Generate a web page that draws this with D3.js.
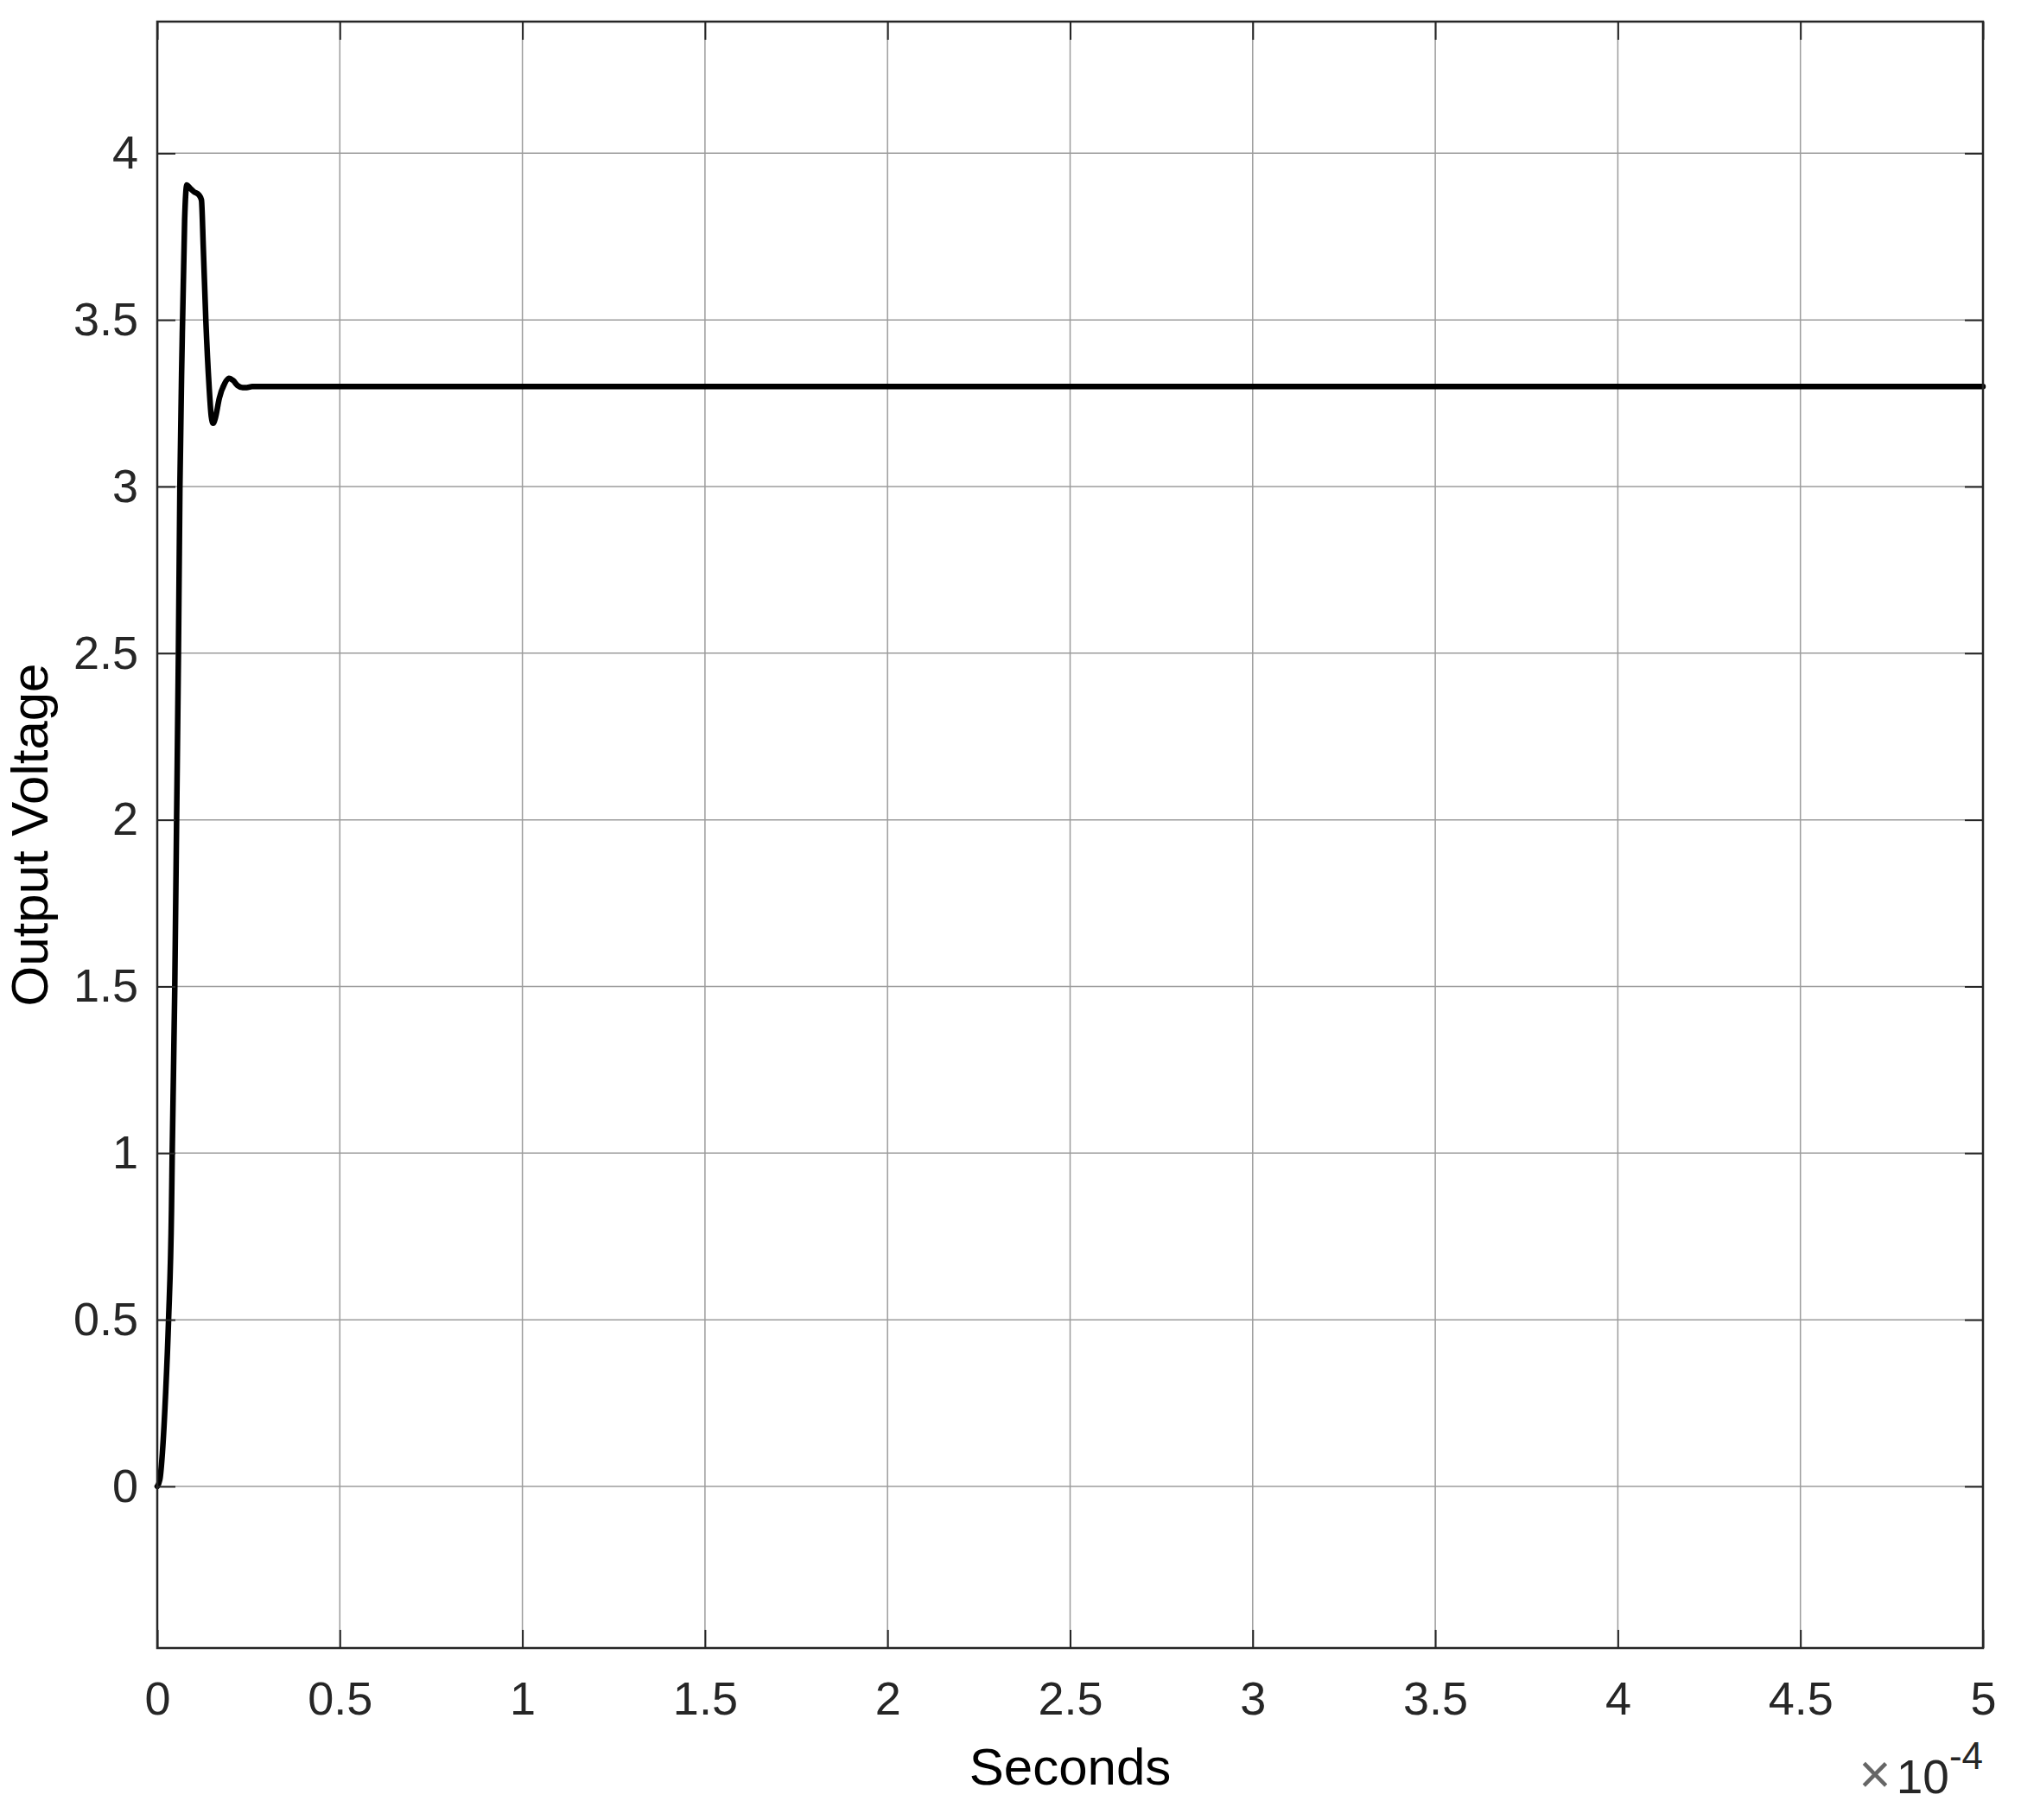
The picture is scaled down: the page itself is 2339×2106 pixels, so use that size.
<!DOCTYPE html>
<html>
<head>
<meta charset="utf-8">
<script src="https://cdn.jsdelivr.net/npm/d3@7"></script>
<style>
  html, body { margin: 0; padding: 0; background: #ffffff; }
  svg { display: block; }
  text { font-family: "Liberation Sans", Arial, Helvetica, sans-serif; }
</style>
</head>
<body>
<svg id="chart" width="2339" height="2106"></svg>
<script>
// ---- data (time in microseconds, voltage in volts) ----
const timeUs = [0, 0.7, 1.4, 2.3, 3.1, 3.9, 4.1, 4.8, 5.3, 5.8, 6.2, 6.8, 7.5, 8.1, 9.0, 10.0, 11.4, 12.1, 12.6, 13.3, 14.2, 14.8, 15.3, 15.9, 17.0, 18.5, 19.6, 20.8, 22.0, 23.4, 24.5, 26, 30, 100, 200, 300, 400, 500];
const voltage = [0, 0.02, 0.10, 0.28, 0.50, 0.83, 1.00, 1.50, 2.00, 2.50, 3.00, 3.42, 3.80, 3.905, 3.895, 3.885, 3.875, 3.86, 3.72, 3.50, 3.30, 3.21, 3.19, 3.205, 3.265, 3.31, 3.325, 3.318, 3.303, 3.297, 3.297, 3.30, 3.30, 3.30, 3.30, 3.30, 3.30, 3.30];
const xTicks = [0, 50, 100, 150, 200, 250, 300, 350, 400, 450, 500];
const xTickLabels = ["0", "0.5", "1", "1.5", "2", "2.5", "3", "3.5", "4", "4.5", "5"];
const yTicks = [0, 0.5, 1, 1.5, 2, 2.5, 3, 3.5, 4];
const yTickLabels = ["0", "0.5", "1", "1.5", "2", "2.5", "3", "3.5", "4"];
const xLabel = "Seconds";
const yLabel = "Output Voltage";

// ---- layout ----
const L = 182, R = 2295, T = 25, B = 1907;
const svg = d3.select("#chart");
const x = d3.scaleLinear().domain([0, 500]).range([L, R]);
const y = d3.scaleLinear().domain([-0.485, 4.395]).range([B, T]);
const axisColor = "#262626";
const tickLen = 21;

// grid
const grid = svg.append("g");
grid.selectAll("line.gx").data(xTicks).enter().append("line")
  .attr("x1", d => x(d)).attr("x2", d => x(d)).attr("y1", T).attr("y2", B)
  .attr("stroke", "#9c9c9c").attr("stroke-width", 1.5);
grid.selectAll("line.gy").data(yTicks).enter().append("line")
  .attr("x1", L).attr("x2", R).attr("y1", d => y(d)).attr("y2", d => y(d))
  .attr("stroke", "#9c9c9c").attr("stroke-width", 1.5);

// line
const line = d3.line().x((d, i) => x(timeUs[i])).y(d => y(d)).curve(d3.curveMonotoneX);
svg.append("path").datum(voltage)
  .attr("d", line).attr("fill", "none").attr("stroke", "#000").attr("stroke-width", 6.5)
  .attr("stroke-linejoin", "round").attr("stroke-linecap", "round");

// axes (inward ticks on all sides)
const axB = d3.axisBottom(x).tickValues(xTicks).tickSizeInner(-tickLen).tickSizeOuter(0)
  .tickFormat((d, i) => xTickLabels[i]).tickPadding(39);
const axT = d3.axisTop(x).tickValues(xTicks).tickSizeInner(-tickLen).tickSizeOuter(0).tickFormat("");
const axLft = d3.axisLeft(y).tickValues(yTicks).tickSizeInner(-tickLen).tickSizeOuter(0)
  .tickFormat((d, i) => yTickLabels[i]).tickPadding(22);
const axRt = d3.axisRight(y).tickValues(yTicks).tickSizeInner(-tickLen).tickSizeOuter(0).tickFormat("");

function style(g) {
  g.select(".domain").remove();
  g.selectAll(".tick line").attr("stroke", axisColor).attr("stroke-width", 2);
  g.selectAll(".tick text").attr("fill", axisColor).attr("font-size", 54);
}
svg.append("g").attr("transform", `translate(0,${B})`).call(axB).call(style)
  .selectAll(".tick text").attr("dy", "0.71em");
svg.append("g").attr("transform", `translate(0,${T})`).call(axT).call(style);
svg.append("g").attr("transform", `translate(${L},0)`).call(axLft).call(style);
svg.append("g").attr("transform", `translate(${R},0)`).call(axRt).call(style);

// box
svg.append("rect").attr("x", L).attr("y", T).attr("width", R - L).attr("height", B - T)
  .attr("fill", "none").attr("stroke", axisColor).attr("stroke-width", 2.5);

// labels
svg.append("text").attr("x", (L + R) / 2).attr("y", 2065).attr("text-anchor", "middle")
  .attr("font-size", 60).attr("fill", "#000").text(xLabel);
svg.append("text").attr("transform", `translate(55,${(T + B) / 2}) rotate(-90)`)
  .attr("text-anchor", "middle").attr("font-size", 60).attr("fill", "#000").text(yLabel);

// exponent
const ex = svg.append("text").attr("x", R).attr("y", 2075).attr("text-anchor", "end")
  .attr("fill", axisColor).attr("font-size", 55);
ex.append("tspan").text("\u00D7").attr("font-size", 64).attr("fill", "#666");
ex.append("tspan").text("10").attr("dx", 6);
ex.append("tspan").text("-4").attr("font-size", 44).attr("dy", -28);
</script>
</body>
</html>
